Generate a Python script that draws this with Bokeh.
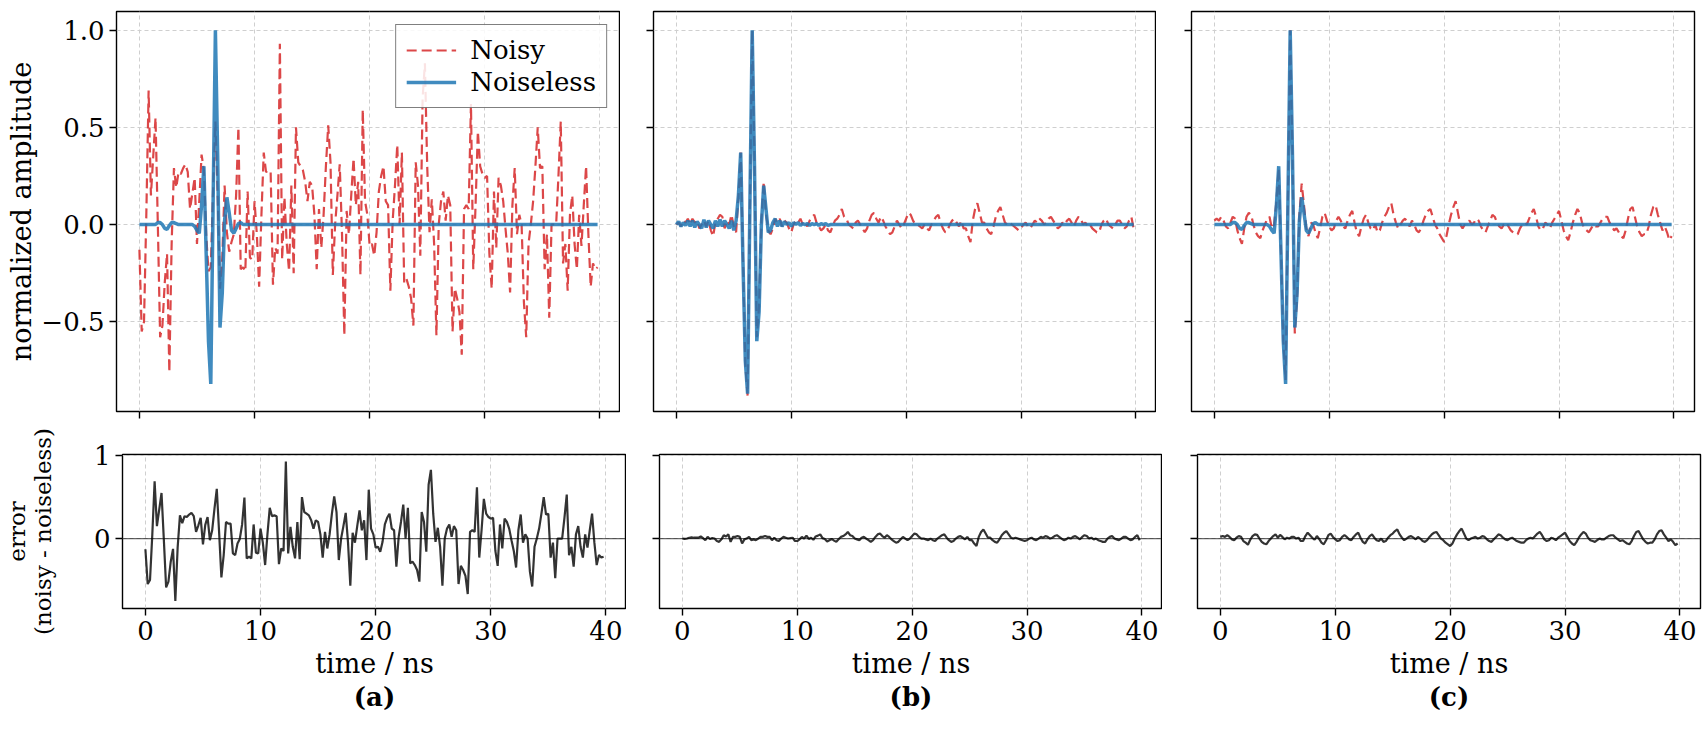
import numpy as np
from bokeh.plotting import figure
from bokeh.models import Range1d, Span, LinearAxis, FixedTicker
from bokeh.layouts import column, row
from bokeh.embed import file_html
from bokeh.resources import INLINE

# time axis: 200 samples, 0.2 ns apart
time_ns = [round(0.2 * i, 1) for i in range(200)]

# noiseless pulse shared by panels (a) and (c)
clean_ac = [
    0, 0, 0, 0, 0, 0, 0, 0, 0.01, 0.01,
    0.0, -0.02, -0.025, -0.005, 0.01, 0.01, 0.005, 0, 0, 0,
    0, 0, 0, 0, -0.01, -0.03, -0.045, 0.10, 0.30, -0.15,
    -0.60, -0.82, 0.10, 1.00, 0.35, -0.53, -0.35, 0.02, 0.14, 0.06,
    -0.03, -0.045, -0.02, 0.005, 0.01, 0, 0, 0, 0, 0,
] + [0.0] * 150

# noiseless pulse of panel (b)
clean_b = [
    0.000, 0.015, -0.010, 0.010, -0.005, 0.020, -0.010, 0.020, -0.015, 0.015,
    0.000, -0.020, 0.025, -0.015, 0.020, 0.000, -0.020, 0.020, -0.010, 0.025,
    -0.010, 0.020, 0.000, -0.020, 0.020, -0.030, 0.020, 0.150, 0.370, -0.200,
    -0.700, -0.870, 0.100, 1.000, 0.300, -0.600, -0.450, 0.000, 0.200, 0.080,
    -0.040, -0.030, 0.010, 0.030, -0.010, 0.020, -0.010, 0.015, 0.000, 0.010,
    -0.010, 0.010, 0.000, 0.010, -0.005, 0.005, 0.000, 0.005, -0.005, 0.005,
    0.000, 0.005, -0.005, 0.005, 0.000, 0.005, -0.005, 0.0, 0.0, 0.0,
] + [0.0] * 130

noisy_a = [
    -0.13, -0.55, -0.50, 0.05, 0.69, 0.15, 0.35, 0.55, 0.00, -0.58,
    -0.52, -0.30, -0.15, -0.76, -0.10, 0.29, 0.19, 0.27, 0.26, 0.29,
    0.31, 0.27, 0.08, 0.16, 0.24, -0.10, 0.12, 0.36, 0.28, -0.05,
    -0.24, -0.22, 0.18, 0.53, 0.15, -0.33, -0.17, 0.20, -0.04, -0.14,
    -0.09, -0.05, 0.15, 0.50, -0.23, -0.22, -0.24, 0.17, -0.17, -0.18,
    0.12, -0.05, -0.32, 0.05, 0.37, 0.27, 0.28, 0.27, -0.31, -0.12,
    -0.15, 0.93, -0.18, 0.14, -0.10, -0.24, 0.20, -0.25, 0.50, 0.32,
    0.30, 0.28, 0.22, 0.12, 0.22, 0.20, 0.05, -0.23, 0.08, -0.12,
    0.05, 0.30, 0.51, 0.32, -0.26, 0.00, 0.15, 0.31, -0.05, -0.57,
    0.07, -0.05, 0.15, 0.34, 0.10, 0.22, -0.26, 0.59, 0.12, 0.05,
    -0.11, -0.10, -0.16, -0.04, 0.17, 0.25, 0.30, 0.12, 0.10, -0.34,
    0.02, 0.20, 0.41, 0.00, 0.37, -0.30, -0.28, -0.32, -0.38, -0.52,
    0.32, 0.20, -0.16, 0.65, 0.83, 0.30, -0.04, 0.13, -0.10, -0.57,
    0.00, 0.12, 0.17, 0.02, 0.15, 0.10, -0.55, -0.33, -0.38, -0.45,
    -0.67, 0.08, 0.10, 0.08, 0.62, -0.23, 0.10, 0.48, 0.30, 0.26,
    0.24, 0.25, -0.15, -0.33, 0.17, -0.12, 0.24, 0.20, 0.12, -0.02,
    -0.15, -0.35, 0.10, 0.29, -0.05, 0.05, 0.00, -0.40, -0.58, -0.10,
    0.00, 0.12, 0.30, 0.50, 0.29, 0.30, -0.23, -0.05, -0.48, 0.00,
    0.00, 0.00, 0.25, 0.53, -0.20, -0.10, -0.34, 0.05, 0.15, -0.10,
    -0.23, 0.05, -0.11, 0.10, 0.30, -0.05, -0.32, -0.20, -0.23, -0.22,
]

noisy_b = [
    0.00, 0.01, -0.01, 0.02, 0.01, 0.03, 0.00, 0.03, 0.01, 0.02,
    -0.02, 0.00, 0.02, -0.01, 0.02, -0.03, -0.06, 0.01, 0.03, 0.05,
    0.04, -0.02, 0.02, 0.00, 0.05, -0.01, -0.04, 0.14, 0.37, -0.18,
    -0.72, -0.88, 0.08, 1.00, 0.32, -0.58, -0.42, 0.02, 0.22, 0.06,
    -0.03, -0.05, -0.02, 0.03, 0.01, 0.03, -0.01, 0.02, 0.01, -0.02,
    -0.04, 0.00, 0.02, 0.01, 0.03, 0.00, 0.01, -0.01, 0.02, 0.04,
    0.05, 0.01, -0.01, -0.03, -0.02, 0.00, -0.03, -0.04, -0.01, 0.02,
    0.03, 0.05, 0.08, 0.04, 0.03, 0.00, -0.01, -0.02, 0.01, 0.02,
    0.00, -0.02, -0.04, -0.02, 0.02, 0.05, 0.06, 0.03, 0.01, 0.04,
    0.02, -0.01, -0.03, -0.05, -0.04, -0.01, 0.02, 0.00, -0.02, 0.00,
    0.03, 0.06, 0.05, 0.02, 0.00, 0.00, -0.01, -0.02, 0.00, -0.02,
    -0.03, 0.00, 0.02, 0.04, 0.05, 0.01, -0.02, -0.04, -0.03, 0.00,
    0.02, 0.03, 0.01, -0.01, 0.02, -0.02, -0.02, -0.06, -0.09, 0.02,
    0.08, 0.11, 0.06, 0.01, 0.01, -0.02, -0.04, -0.05, -0.01, 0.04,
    0.07, 0.09, 0.05, 0.01, 0.00, 0.01, 0.00, -0.01, -0.02, -0.03,
    -0.02, 0.00, 0.01, -0.01, -0.02, 0.00, 0.02, 0.01, 0.03, 0.02,
    0.00, 0.01, 0.03, 0.04, 0.02, 0.00, -0.02, -0.01, 0.01, 0.00,
    0.02, 0.03, 0.01, -0.01, 0.02, 0.04, 0.03, 0.00, 0.01, -0.01,
    0.00, -0.02, -0.03, -0.04, -0.04, 0.00, 0.02, 0.03, 0.00, -0.01,
    -0.02, 0.00, 0.02, 0.02, 0.00, -0.02, -0.01, 0.02, 0.04, -0.02,
]

noisy_c = [
    0.02, 0.03, 0.02, 0.04, 0.02, -0.01, -0.02, 0.01, 0.04, 0.03,
    -0.03, -0.07, -0.10, -0.02, 0.04, 0.06, 0.05, 0.00, -0.04, -0.06,
    -0.07, -0.03, 0.00, 0.03, 0.04, -0.02, 0.00, 0.12, 0.29, -0.14,
    -0.60, -0.80, 0.12, 1.00, 0.36, -0.56, -0.38, 0.05, 0.21, 0.10,
    -0.02, -0.06, 0.01, 0.00, -0.04, -0.07, -0.02, 0.04, 0.06, 0.02,
    -0.01, -0.03, -0.02, 0.02, 0.04, 0.02, -0.01, -0.02, 0.02, 0.05,
    0.07, 0.01, -0.04, -0.06, -0.01, 0.03, 0.05, 0.01, -0.02, -0.03,
    0.00, -0.04, -0.03, 0.01, 0.04, 0.06, 0.09, 0.11, 0.05, 0.01,
    -0.02, 0.00, 0.02, 0.03, 0.01, -0.01, 0.02, 0.00, -0.03, -0.04,
    -0.02, 0.02, 0.05, 0.07, 0.08, 0.04, 0.00, -0.02, -0.05, -0.07,
    -0.09, -0.06, 0.00, 0.05, 0.09, 0.12, 0.06, 0.00, -0.02, 0.00,
    0.01, 0.02, 0.00, 0.01, 0.03, 0.02, -0.01, -0.03, -0.04, -0.01,
    0.02, 0.05, 0.04, 0.01, -0.01, -0.02, 0.00, 0.01, -0.01, -0.03,
    -0.04, -0.05, -0.05, -0.02, 0.00, 0.01, 0.00, 0.03, 0.06, 0.08,
    0.04, -0.01, -0.03, -0.02, 0.01, 0.00, -0.02, 0.01, 0.03, 0.05,
    0.07, 0.02, -0.03, -0.06, -0.08, -0.04, 0.01, 0.05, 0.08, 0.06,
    0.01, -0.02, -0.03, -0.04, -0.02, 0.00, -0.01, -0.01, 0.01, 0.03,
    0.04, 0.04, 0.01, -0.01, -0.03, -0.02, -0.04, -0.06, -0.07, -0.03,
    0.03, 0.08, 0.09, 0.04, -0.01, -0.04, -0.06, -0.05, -0.05, -0.01,
    0.05, 0.09, 0.10, 0.05, 0.01, -0.03, -0.01, -0.04, -0.08, -0.06,
]

panel_tags = ["(a)", "(b)", "(c)"]
x_ticks = [0, 10, 20, 30, 40]
top_ticks = [-0.5, 0, 0.5, 1.0]
top_tick_text = {-0.5: "\u22120.5", 0: "0.0", 0.5: "0.5", 1.0: "1.0"}
err_ticks = [-1, 0, 1]

for arr in (clean_ac, clean_b, noisy_a, noisy_b, noisy_c):
    assert len(arr) == len(time_ns), len(arr)

FONT = "DejaVu Serif"
RED = "#d62728"
BLUE = "#1f77b4"

x_range = Range1d(-1.99, 41.79)
top_y = Range1d(-0.962, 1.096)
err_y = Range1d(-0.845, 1.015)


def hide_labels(ax):
    ax.major_label_text_font_size = "0px"
    ax.major_label_text_color = None
    ax.major_label_standoff = 0


def style(p, xlabels, ylabels):
    p.outline_line_color = "black"
    p.outline_line_width = 1.4
    p.background_fill_color = "white"
    p.border_fill_color = "white"
    for g in (p.xgrid[0], p.ygrid[0]):
        g.grid_line_color = "#cfcfcf"
        g.grid_line_dash = "4 3"
        g.grid_line_width = 1
    for ax in (p.xaxis[0], p.yaxis[0]):
        ax.axis_line_color = None
        ax.major_tick_in = 0
        ax.major_tick_out = 7
        ax.major_tick_line_width = 1.4
        ax.major_tick_line_color = "black"
        ax.minor_tick_line_color = None
        ax.major_label_text_font = FONT
        ax.major_label_text_font_size = "26px"
        ax.major_label_text_color = "black"
        ax.major_label_standoff = 5
        ax.axis_label_text_font = FONT
        ax.axis_label_text_font_size = "27px"
        ax.axis_label_text_font_style = "normal"
        ax.axis_label_text_color = "black"
        ax.axis_label_standoff = 5
    p.xaxis.ticker = x_ticks
    if not xlabels:
        hide_labels(p.xaxis[0])
    if not ylabels:
        hide_labels(p.yaxis[0])


tops, bottoms = [], []
panels = [(noisy_a, clean_ac), (noisy_b, clean_b), (noisy_c, clean_ac)]
for i, (noisy, clean) in enumerate(panels):
    left = [116, 33, 35][i]
    fw = [504, 503, 503][i]
    right = 5 if i == 2 else 0

    # -----------------------------
    # upper panel: noisy vs noiseless
    # -----------------------------
    p = figure(frame_width=fw, frame_height=400, x_range=x_range, y_range=top_y,
               output_backend="svg", toolbar_location=None,
               min_border_left=left, min_border_right=right,
               min_border_top=11, min_border_bottom=10)
    style(p, False, i == 0)
    p.yaxis.ticker = top_ticks
    p.yaxis.major_label_overrides = top_tick_text
    if i == 0:
        p.yaxis.axis_label = "normalized amplitude"
        p.yaxis.axis_label_standoff = 1
        p.line(time_ns, noisy, line_color=RED, line_alpha=0.85, line_width=2.2,
               line_dash="10 5", legend_label="Noisy")
        p.line(time_ns, clean, line_color=BLUE, line_alpha=0.85, line_width=3.5,
               legend_label="Noiseless")
        p.legend.location = "top_right"
        p.legend.margin = 13
        p.legend.padding = 10
        p.legend.spacing = 2
        p.legend.border_line_color = "black"
        p.legend.border_line_width = 1.3
        p.legend.background_fill_alpha = 0.85
        p.legend.label_text_font = FONT
        p.legend.label_text_font_size = "26px"
        p.legend.label_text_color = "black"
        p.legend.glyph_width = 50
        p.legend.label_standoff = 14
        p.legend.label_height = 30
        p.legend.glyph_height = 30
    else:
        p.line(time_ns, noisy, line_color=RED, line_alpha=0.85, line_width=2.2,
               line_dash="10 5")
        p.line(time_ns, clean, line_color=BLUE, line_alpha=0.85, line_width=3.5)
    tops.append(p)

    # -----------------------------
    # lower panel: error
    # -----------------------------
    err = np.array(noisy) - np.array(clean)
    q = figure(frame_width=fw, frame_height=154, x_range=x_range, y_range=err_y,
               output_backend="svg", toolbar_location=None,
               min_border_left=left, min_border_right=right,
               min_border_top=33, min_border_bottom=60)
    style(q, True, i == 0)
    q.yaxis.ticker = err_ticks
    q.xaxis.axis_label = "time / ns"
    if i == 0:
        q.yaxis.axis_label = "error\n(noisy - noiseless)"
        q.yaxis.axis_label_text_font_size = "23px"
        q.yaxis.axis_label_text_line_height = 1.0
        q.yaxis.axis_label_standoff = 35
    q.add_layout(Span(location=0, dimension="width", line_color="black",
                      line_alpha=0.6, line_width=1.3))
    q.line(time_ns, err, line_color="black", line_alpha=0.8, line_width=2.2)

    # panel tag as the label of a bare extra axis below the time axis
    tag = LinearAxis(ticker=FixedTicker(ticks=[]), axis_label=panel_tags[i],
                     axis_line_color=None, major_tick_out=0, major_tick_in=0,
                     minor_tick_line_color=None, major_tick_line_color=None,
                     major_label_text_font_size="0px", major_label_text_color=None,
                     major_label_standoff=0, axis_label_standoff=0,
                     axis_label_text_font=FONT, axis_label_text_font_size="26px",
                     axis_label_text_font_style="bold", axis_label_text_color="black")
    q.add_layout(tag, "below")
    bottoms.append(q)

layout = column(row(*tops), row(*bottoms))
open("out.html", "w").write(file_html(layout, INLINE))
